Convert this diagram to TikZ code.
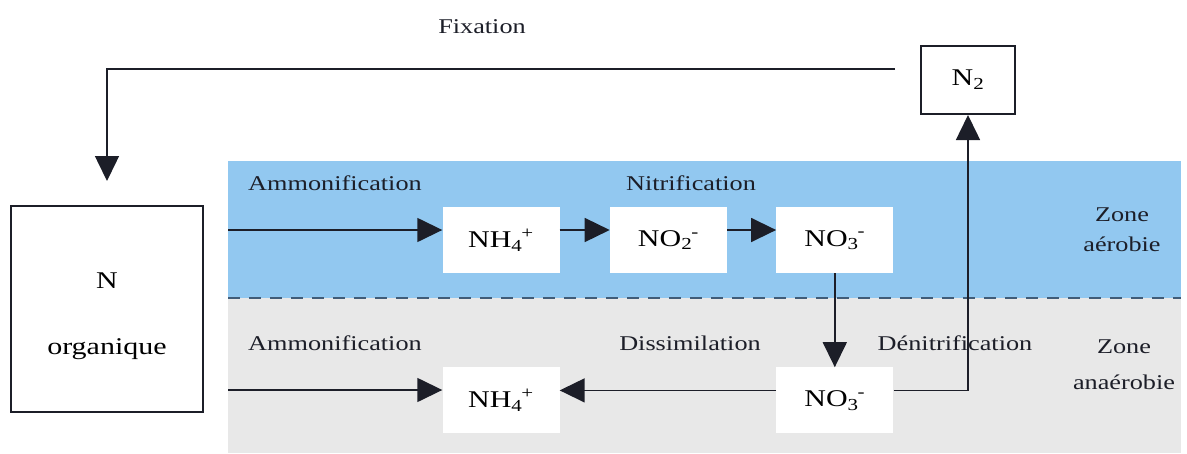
\documentclass[tikz,border=0pt]{standalone}
\usepackage{fontspec}
\setmainfont{Liberation Serif}[FakeStretch=1.25]
\usepackage{xcolor}
\usepackage{tikz}
\usetikzlibrary{arrows.meta, positioning, calc}

\definecolor{aerob}{RGB}{146,200,240}
\definecolor{anaerob}{RGB}{232,232,232}
\definecolor{zoneline}{RGB}{64,92,120}
\definecolor{ink}{RGB}{28,30,40}

\newcommand{\ionlbl}[3]{#1\textsubscript{#2}\kern-1pt\textsuperscript{#3}}

\tikzset{
	ionbox/.style={fill=white, minimum width=117, minimum height=66, inner sep=0pt, font=\fontsize{24}{28}\selectfont},
	bigbox/.style={draw=ink, fill=white, line width=2pt, inner sep=0pt, font=\fontsize{24}{28}\selectfont},
	procname/.style={font=\fontsize{21}{25}\selectfont, text=ink},
	flow/.style={draw=ink, line width=1.5pt, -{Triangle[length=25pt, width=24pt]}}
}

\begin{document}
\begin{tikzpicture}[x=1pt, y=-1pt]
		
		\useasboundingbox (0,0) rectangle (1187,453);
		
		% zones
		\fill[aerob] (228,161) rectangle (1181,298);
		\fill[anaerob] (228,298) rectangle (1181,453);
		\draw[zoneline, line width=2pt, dash pattern=on 12pt off 9pt] (228,298) -- (1181,298);
		
		\node[ionbox] (nh4a) at (501,240) {\ionlbl{NH}{4}{+}};
		\node[ionbox, right=50pt of nh4a] (no2) {\ionlbl{NO}{2}{-}};
		\node[ionbox, right=49pt of no2] (no3a) {\ionlbl{NO}{3}{-}};
		\node[ionbox, below=94pt of nh4a] (nh4b) {\ionlbl{NH}{4}{+}};
		\node[ionbox, below=94pt of no3a] (no3b) {\ionlbl{NO}{3}{-}};
		
		\node[bigbox, minimum width=94, minimum height=68] (n2) at (968,80) {N\textsubscript{2}};
		\node[bigbox, minimum width=192, minimum height=206] (norg) at (107,309) {};
		\node[align=center, font=\fontsize{24}{28}\selectfont] (norgtxt) at ([yshift=-7pt]norg.center) {N\\[38pt]organique};
		
		\node[procname] (fix) at (482,27) {Fixation};
		\node[procname] (amma) at (335,183) {Ammonification};
		\node[procname] (nitr) at (691,183) {Nitrification};
		\node[procname] (ammb) at (335,343) {Ammonification};
		\node[procname] (diss) at (690,343) {Dissimilation};
		\node[procname] (denit) at (955,343) {Dénitrification};
		\node[procname, align=center] (zonea) at (1122,230) {Zone\\[5pt]aérobie};
		\node[procname, align=center] (zoneb) at (1124,365) {Zone\\[11pt]anaérobie};
		
		\coordinate (ina) at (228,230);
		\coordinate (inb) at (228,390);
		
		\draw[flow] (ina) -- (ina -| nh4a.west);
		\draw[flow] ([yshift=10pt]nh4a.east) -- ([yshift=10pt]no2.west);
		\draw[flow] ([yshift=10pt]no2.east) -- ([yshift=10pt]no3a.west);
		\draw[flow] (no3a.south) -- (no3b.north);
		\draw[flow] (inb) -- (inb -| nh4b.west);
		\draw[flow] ([yshift=10pt]no3b.west) -- ([yshift=10pt]nh4b.east);
		\draw[flow] ([yshift=10pt]no3b.east) -| (n2.south);
		\draw[flow] ([shift={(-25pt,11pt)}]n2.west) -| ([yshift=24pt]norg.north);
		
\end{tikzpicture}
\end{document}
